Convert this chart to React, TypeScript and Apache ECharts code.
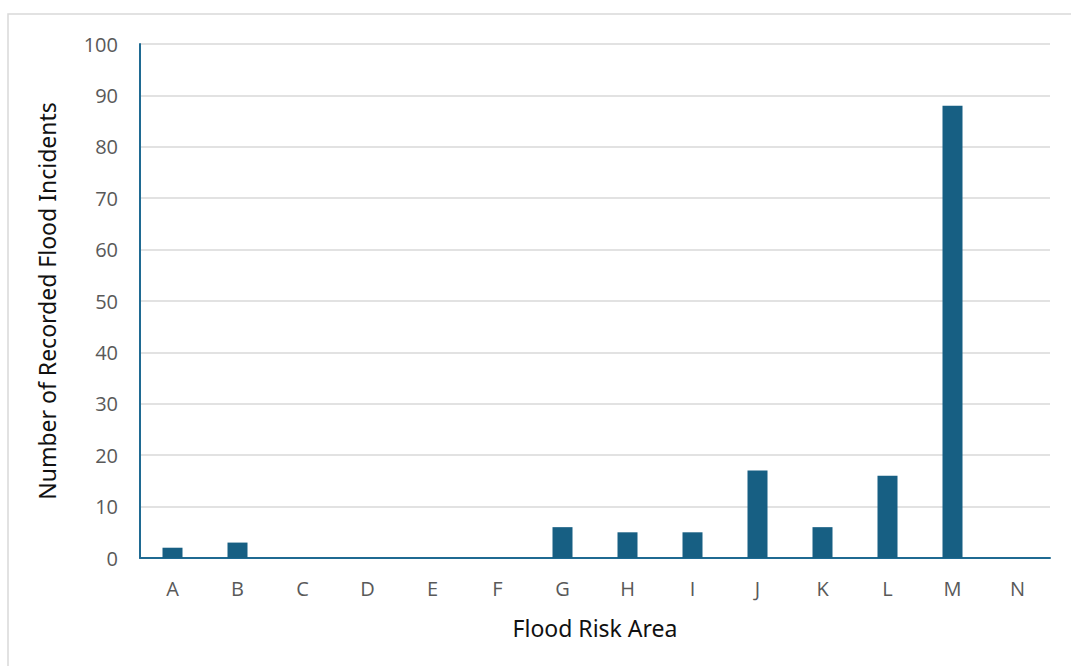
import React, { useEffect, useRef } from "react";
import * as echarts from "echarts";

const categories = ["A", "B", "C", "D", "E", "F", "G", "H", "I", "J", "K", "L", "M", "N"];
const incidents = [2, 3, 0, 0, 0, 0, 6, 5, 5, 17, 6, 16, 88, 0];
const xTitle = "Flood Risk Area";
const yTitle = "Number of Recorded Flood Incidents";

export default function App() {
  const ref = useRef<HTMLDivElement>(null);
  useEffect(() => {
    if (!ref.current) return;
    const chart = echarts.init(ref.current, undefined, { renderer: "svg" });
    chart.setOption({
      animation: false,
      backgroundColor: "#ffffff",
      graphic: [
        {
          type: "rect",
          shape: { x: 8, y: 14, width: 1100, height: 700 },
          style: { fill: "none", stroke: "#d9d9d9", lineWidth: 1.5 },
          silent: true,
        },
      ],
      grid: { left: 140, right: 21, top: 44, bottom: 108, containLabel: false },
      xAxis: {
        type: "category",
        data: categories,
        axisLine: { show: true, lineStyle: { color: "#1f6a92", width: 2 } },
        axisTick: { show: false },
        axisLabel: { color: "#595959", fontSize: 20, fontFamily: "Open Sans", margin: 20 },
        name: xTitle,
        nameLocation: "middle",
        nameGap: 58,
        nameTextStyle: { color: "#111111", fontSize: 23, fontFamily: "Noto Sans" },
      },
      yAxis: {
        type: "value",
        min: 0,
        max: 100,
        interval: 10,
        axisLine: { show: true, lineStyle: { color: "#1f6a92", width: 2 } },
        axisTick: { show: false },
        splitLine: { show: true, lineStyle: { color: "#d9d9d9", width: 1.5 } },
        axisLabel: { color: "#595959", fontSize: 20, fontFamily: "Open Sans", margin: 22 },
        name: yTitle,
        nameLocation: "middle",
        nameGap: 82,
        nameRotate: 90,
        nameTextStyle: { color: "#111111", fontSize: 23, fontFamily: "Noto Sans" },
      },
      series: [
        {
          type: "bar",
          data: incidents,
          barWidth: 20,
          itemStyle: { color: "#175f83" },
        },
      ],
    });
    return () => chart.dispose();
  }, []);
  return (
    <div
      ref={ref}
      style={{ position: "absolute", left: 0, top: 0, width: 1071, height: 666 }}
    />
  );
}
